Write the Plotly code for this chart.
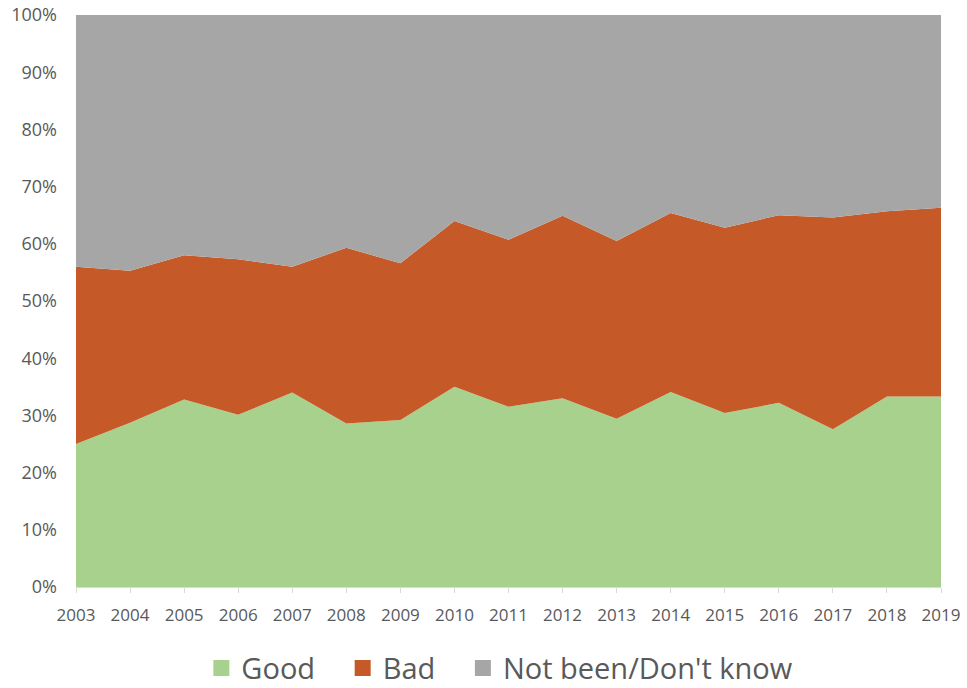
import plotly.graph_objects as go

years = list(range(2003, 2020))
good = [25.0, 28.7, 32.8, 30.1, 34.0, 28.6, 29.2, 35.0, 31.5, 33.0, 29.4, 34.1, 30.4, 32.2, 27.6, 33.3, 33.3]
bad = [31.0, 26.6, 25.2, 27.2, 22.0, 30.7, 27.4, 29.0, 29.2, 31.9, 31.1, 31.3, 32.4, 32.8, 37.0, 32.4, 33.0]
not_been = [round(100 - g - b, 1) for g, b in zip(good, bad)]

series = [
    ("Good", good, "#A9D18E"),
    ("Bad", bad, "#C55A28"),
    ("Not been/Don't know", not_been, "#A6A6A6"),
]

fig = go.Figure()
# stacked, normalised areas
for name, vals, color in series:
    fig.add_trace(go.Scatter(
        x=years, y=vals, name=name, mode="lines",
        stackgroup="one", groupnorm="percent",
        line=dict(width=0, color=color), fillcolor=color,
        showlegend=False, legendgroup=name,
    ))
# square swatches for the legend (trailing no-break spaces widen the gap between entries)
pad = "\u00a0\u00a0\u00a0"
for i, (name, vals, color) in enumerate(series):
    label = name + (pad if i < len(series) - 1 else "")
    fig.add_trace(go.Scatter(
        x=[None], y=[None], name=label, mode="markers",
        marker=dict(symbol="square", size=18, color=color),
        showlegend=True, legendgroup=name,
    ))

font_family = "Open Sans, Noto Sans, sans-serif"
fig.update_layout(
    width=967, height=688,
    margin=dict(l=76, r=26, t=15, b=101, autoexpand=False),
    paper_bgcolor="white", plot_bgcolor="white",
    font=dict(family=font_family, color="#595959"),
    showlegend=True,
    legend=dict(
        orientation="h", x=0.49, xanchor="center", y=-0.142, yanchor="middle",
        font=dict(size=29, color="#595959"), traceorder="normal",
        itemwidth=30, itemsizing="trace",
    ),
    xaxis=dict(
        range=[2003, 2019], tickmode="array", tickvals=years,
        ticktext=[str(y) for y in years], showgrid=False, zeroline=False,
        showline=True, linecolor="#D9D9D9", linewidth=1,
        ticks="outside", ticklen=5, tickcolor="#D9D9D9",
        tickfont=dict(size=17, color="#595959"), ticklabelstandoff=8,
        automargin=False,
    ),
    yaxis=dict(
        range=[0, 100], tickmode="array", tickvals=list(range(0, 101, 10)),
        ticktext=[f"{v}%" for v in range(0, 101, 10)], showgrid=False,
        zeroline=False, showline=False, ticks="",
        tickfont=dict(size=18, color="#595959"), ticklabelstandoff=18,
        automargin=False,
    ),
)

fig.write_html("out.html")
